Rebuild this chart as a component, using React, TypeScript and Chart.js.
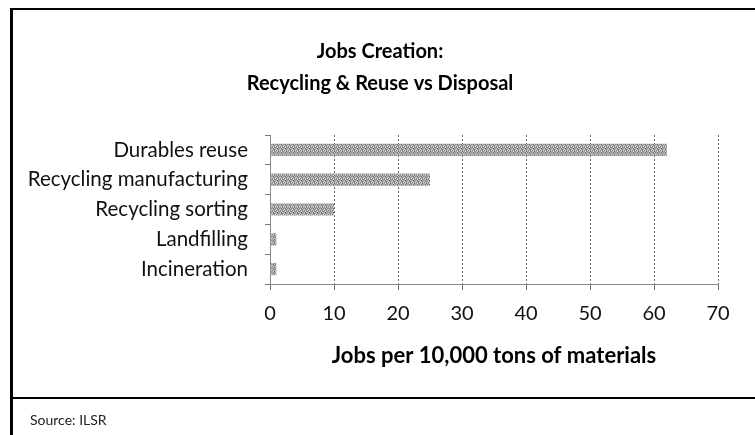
import React, { useEffect, useRef } from "react";
import { Chart, registerables } from "chart.js";

Chart.register(...registerables);

const categories = [
  "Durables reuse",
  "Recycling manufacturing",
  "Recycling sorting",
  "Landfilling",
  "Incineration",
];
const jobsPer10k = [62, 25, 10, 1, 1];
const xTickValues = [0, 10, 20, 30, 40, 50, 60, 70];
const titleLines = ["Jobs Creation:", "Recycling & Reuse vs Disposal"];
const xAxisTitle = "Jobs per 10,000 tons of materials";
const sourceText = "Source: ILSR";

const FONT = "Lato, 'Open Sans', sans-serif";

function makeStipple(): CanvasPattern | string {
  const c = document.createElement("canvas");
  c.width = 4;
  c.height = 4;
  const g = c.getContext("2d");
  if (!g) return "#aaaaaa";
  const map = [
    ["#a8a8a8", "#707070", "#c4c4c4", "#8e8e8e"],
    ["#cecece", "#969696", "#7e7e7e", "#b4b4b4"],
    ["#828282", "#bcbcbc", "#9c9c9c", "#d0d0d0"],
    ["#a4a4a4", "#d4d4d4", "#747474", "#a6a6a6"],
  ];
  for (let y = 0; y < 4; y++) {
    for (let x = 0; x < 4; x++) {
      g.fillStyle = map[y][x];
      g.fillRect(x, y, 1, 1);
    }
  }
  const p = g.createPattern(c, "repeat");
  return p || "#aaaaaa";
}

// let the category labels spill left of the padded layout box without clipping
const unclipYLabels = {
  id: "unclipYLabels",
  afterLayout(chart: any) {
    const y = chart.scales.y;
    if (y) y.left = 0;
  },
};

export default function App() {
  const ref = useRef<HTMLCanvasElement | null>(null);

  useEffect(() => {
    if (!ref.current) return;
    const pattern = makeStipple();
    const chart = new Chart(ref.current, {
      type: "bar",
      data: {
        labels: categories,
        datasets: [
          {
            data: jobsPer10k,
            backgroundColor: pattern as any,
            borderWidth: 0,
            categoryPercentage: 1,
            barPercentage: 0.41,
          },
        ],
      },
      plugins: [unclipYLabels],
      options: {
        indexAxis: "y",
        animation: false,
        responsive: false,
        maintainAspectRatio: false,
        layout: { padding: { left: 42, right: 37, top: 0, bottom: 0 } },
        plugins: {
          legend: { display: false },
          tooltip: { enabled: false },
          title: {
            display: true,
            text: titleLines,
            color: "#000",
            font: { family: FONT, size: 20, weight: "bold", lineHeight: 1.6 },
            padding: { top: 36, bottom: 35 },
          },
        },
        scales: {
          x: {
            min: 0,
            max: 70,
            afterBuildTicks: (scale: any) => {
              scale.ticks = xTickValues.map((v) => ({ value: v }));
            },
            afterFit: (scale: any) => {
              scale.height = 112;
            },
            ticks: {
              color: "#111",
              font: { family: FONT, size: 20 },
              padding: 12,
            },
            grid: {
              color: "#6a6a6a",
              lineWidth: 1,
              tickLength: 6,
              tickColor: "#6a6a6a",
            },
            border: { display: true, color: "#8a8a8a", width: 1, dash: [2, 2] },
            title: {
              display: true,
              text: xAxisTitle,
              color: "#000",
              font: { family: FONT, size: 22, weight: "bold" },
              padding: { top: 10, bottom: 27 },
            },
          },
          y: {
            afterFit: (scale: any) => {
              scale.width = 228;
            },
            ticks: {
              color: "#111",
              font: { family: FONT, size: 20.5 },
              padding: 17,
            },
            grid: {
              drawOnChartArea: false,
              tickLength: 5,
              color: "#777",
            },
            border: { display: true, color: "#8a8a8a", width: 1, dash: [2, 2] },
          },
        },
      },
    });
    return () => chart.destroy();
  }, []);

  return (
    <div
      style={{
        position: "fixed",
        left: 0,
        top: 0,
        width: 755,
        height: 435,
        background: "#fff",
        overflow: "hidden",
      }}
    >
      <canvas
        ref={ref}
        width={755}
        height={396}
        style={{ position: "absolute", left: 0, top: 0, width: 755, height: 396 }}
      />
      <div
        style={{
          position: "absolute",
          left: 10,
          top: 8,
          width: 760,
          height: 440,
          borderLeft: "3px solid #000",
          borderTop: "2px solid #000",
          pointerEvents: "none",
        }}
      />
      <div
        style={{
          position: "absolute",
          left: 10,
          top: 397,
          width: 760,
          height: 2,
          background: "#000",
        }}
      />
      <div
        style={{
          position: "absolute",
          left: 30,
          top: 410,
          fontFamily: FONT,
          fontSize: 14,
          lineHeight: "20px",
          color: "#222",
        }}
      >
        {sourceText}
      </div>
    </div>
  );
}
